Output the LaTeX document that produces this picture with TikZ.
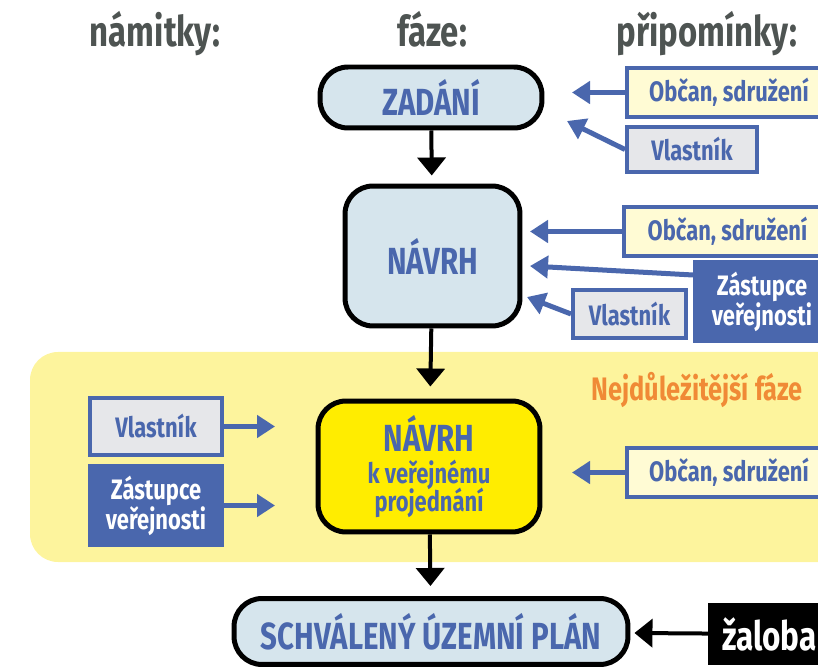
\documentclass[tikz,border=0pt]{standalone}
\usepackage{fontspec}
\setmainfont[FakeStretch=0.78]{Fira Sans}
\usetikzlibrary{arrows.meta}
\definecolor{modra}{RGB}{74,103,173}
\definecolor{svetlemodra}{RGB}{214,229,237}
\definecolor{svetlezluta}{RGB}{255,251,212}
\definecolor{seda}{RGB}{230,231,234}
\definecolor{zluta}{RGB}{255,237,0}
\definecolor{pozadi}{RGB}{253,244,157}
\definecolor{oranzova}{RGB}{240,138,54}
\definecolor{nadpis}{RGB}{78,84,82}
\tikzset{
  faze/.style={draw=black, line width=0.1cm, rounded corners=0.56cm, fill=svetlemodra, text=modra,
    font=\fontsize{21.5}{26}\selectfont\bfseries, align=center, inner sep=0pt},
  rama/.style={draw=modra, line width=0.08cm, text=modra, inner sep=0pt, align=center,
    font=\fontsize{16}{17}\selectfont\bfseries},
  obcan/.style={rama, fill=svetlezluta, anchor=west, minimum height=0.98cm},
  vlastnik/.style={rama, fill=seda},
  zastupce/.style={rama, fill=modra, text=white},
  nadpisy/.style={text=nadpis, anchor=base, font=\fontsize{24}{26}\selectfont\bfseries},
  sipka/.style={modra, line width=0.1cm, -{Triangle[width=0.44cm,length=0.36cm]}},
  cerna/.style={black, line width=0.08cm, -{Triangle[width=0.56cm,length=0.36cm]}}
}
\begin{document}
\begin{tikzpicture}[x=0.02cm,y=-0.02cm]
\useasboundingbox (0,0) rectangle (818,668);
\clip (0,0) rectangle (818,668);
\fill[pozadi, rounded corners=0.56cm] (30,352) rectangle (860,562);

\node[nadpisy] (namitky) at (155,47) {námitky:};
\node[nadpisy] (fazeh) at (432,47) {fáze:};
\node[nadpisy] (pripominky) at (707,47) {připomínky:};

\node[faze, minimum width=4.44cm, minimum height=1.22cm] (zadani) at (431,97.5) {ZADÁNÍ};
\node[faze, minimum width=3.5cm, minimum height=2.8cm] (navrh) at (432.5,256) {NÁVRH};
\node[faze, fill=zluta, minimum width=4.44cm, minimum height=2.62cm] (projednani) at (429,466.5)
  {NÁVRH\\[-7.3pt]{\fontsize{16}{16}\selectfont k veřejnému}\\[-10.1pt]{\fontsize{16}{16}\selectfont projednání}};
\node[faze, minimum width=7.88cm, minimum height=1.32cm] (plan) at (431,631.5) {SCHVÁLENÝ ÚZEMNÍ PLÁN};
\node[fill=black, text=white, inner xsep=0.28cm, inner ysep=0pt, anchor=west, minimum height=1.24cm,
  font=\fontsize{23}{26}\selectfont\bfseries] (zaloba) at (708,634) {žaloba};

\draw[cerna, shorten >=0.16cm] (zadani) -- (navrh);
\draw[cerna, shorten >=0.24cm] (navrh) -- (projednani);
\draw[cerna, shorten >=0.2cm] (projednani) -- (plan);
\draw[cerna, shorten >=0.08cm] (zaloba) -- (plan);

\node[obcan, minimum width=4.08cm] (obcan1) at (625,92.5) {Občan, sdružení};
\node[vlastnik, minimum width=2.6cm, minimum height=0.9cm] (vlastnik1) at (692,149.5) {Vlastník};
\node[obcan, minimum width=4.14cm] (obcan2) at (622,231.5) {Občan, sdružení};
\node[zastupce, anchor=west, minimum width=2.68cm, minimum height=1.58cm] (zastupce1) at (693,301.5) {Zástupce\\veřejnosti};
\node[vlastnik, minimum width=2.26cm, minimum height=0.96cm] (vlastnik2) at (629.5,314) {Vlastník};
\node[obcan, minimum width=4.08cm] (obcan3) at (625,472.5) {Občan, sdružení};
\node[vlastnik, minimum width=2.64cm, minimum height=1.14cm] (vlastnik3) at (156,426.5) {Vlastník};
\node[zastupce, minimum width=2.64cm, minimum height=1.58cm] (zastupce2) at (156,505.5) {Zástupce\\veřejnosti};
\node[text=oranzova, anchor=east, font=\fontsize{18.5}{20}\selectfont\bfseries] (nejdul) at (809,390) {Nejdůležitější fáze};

\coordinate (k1) at (572,92.5);
\coordinate (k2) at (567,121);
\coordinate (k3) at (530,231.5);
\coordinate (k4) at (530,266);
\coordinate (k5) at (527,297);
\coordinate (k6) at (275,426.5);
\coordinate (k7) at (275,505.5);
\coordinate (k8) at (572,472.5);
\draw[sipka] (obcan1.west) -- (k1);
\draw[sipka] (vlastnik1.west) -- (k2);
\draw[sipka] (obcan2.west) -- (k3);
\draw[sipka] ([yshift=-0.3cm]zastupce1.north west) -- (k4);
\draw[sipka] (vlastnik2.west) -- (k5);
\draw[sipka] (vlastnik3.east) -- (k6);
\draw[sipka] (zastupce2.east) -- (k7);
\draw[sipka] (obcan3.west) -- (k8);
\end{tikzpicture}
\end{document}
